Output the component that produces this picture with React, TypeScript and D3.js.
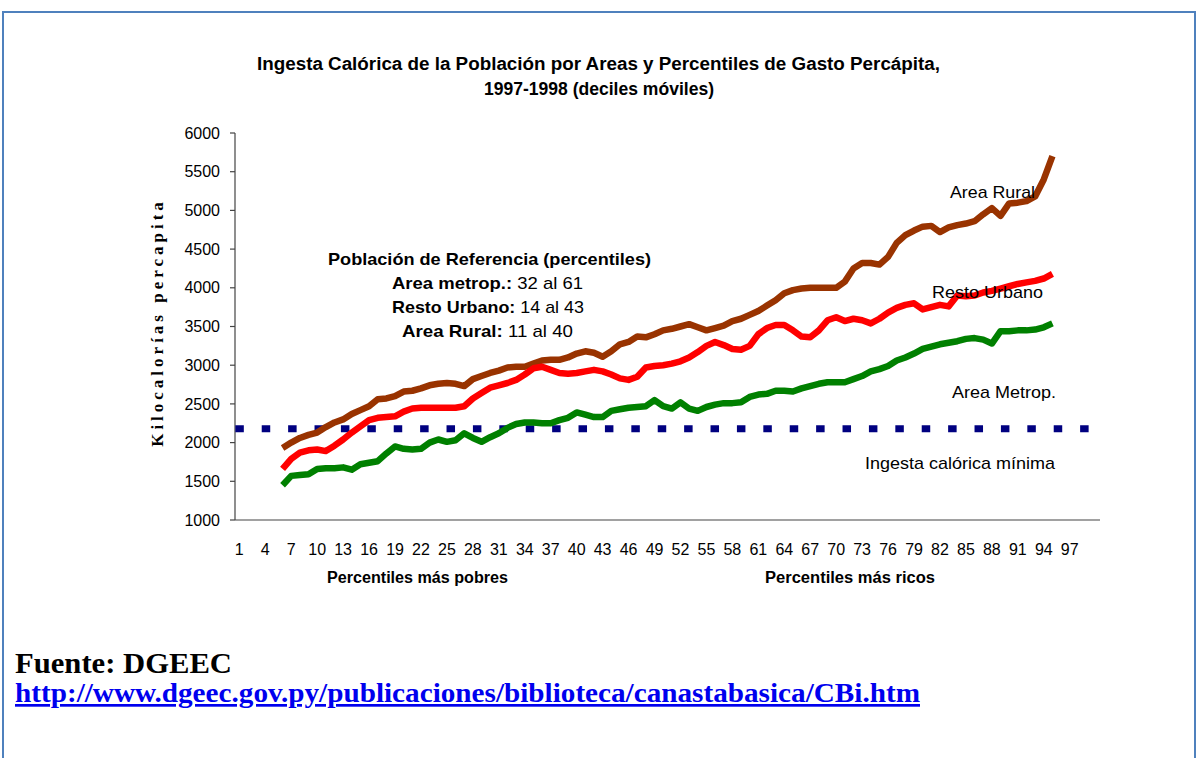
import * as d3 from "d3";

const percentiles = d3.range(1, 101);
const tickLabels = d3.range(1, 98, 3);
const seriesPercentiles = d3.range(6, 96);

const rural = [
  1930, 2000, 2060, 2100, 2130, 2200, 2260, 2300, 2370, 2420,
  2470, 2560, 2570, 2600, 2660, 2670, 2700, 2740, 2760, 2770,
  2760, 2730, 2820, 2860, 2900, 2930, 2970, 2980, 2980, 3020,
  3060, 3070, 3070, 3100, 3150, 3180, 3160, 3110, 3180, 3270,
  3300, 3370, 3360, 3400, 3450, 3470, 3500, 3530, 3490, 3450,
  3480, 3510, 3570, 3600, 3650, 3700, 3770, 3840, 3930, 3970,
  3990, 4000, 4000, 4000, 4000, 4080, 4250, 4320, 4320, 4300,
  4400, 4580, 4680, 4740, 4790, 4800, 4720, 4780, 4810, 4830,
  4860, 4950, 5030, 4930, 5090, 5100, 5120, 5180, 5400, 5700,
];

const urbano = [
  1660, 1790, 1870, 1900, 1910, 1890, 1960, 2040, 2130, 2210,
  2290, 2320, 2330, 2340, 2400, 2440, 2450, 2450, 2450, 2450,
  2450, 2470, 2570, 2640, 2710, 2740, 2770, 2810, 2880, 2960,
  2980, 2940, 2900, 2890, 2900, 2920, 2940, 2920, 2880, 2830,
  2810, 2850, 2970, 2990, 3000, 3020, 3050, 3100, 3170, 3250,
  3300, 3260, 3210, 3200, 3250, 3400, 3480, 3520, 3520, 3450,
  3370, 3360, 3450, 3580, 3620, 3570, 3600, 3580, 3540, 3600,
  3680, 3740, 3780, 3800, 3720, 3750, 3780, 3760, 3900, 3890,
  3900, 3940, 3960, 3990, 4020, 4050, 4070, 4090, 4120, 4180,
];

const metrop = [
  1450, 1570, 1580, 1590, 1660, 1670, 1670, 1680, 1650, 1720,
  1740, 1760, 1860, 1950, 1920, 1910, 1920, 2000, 2040, 2010,
  2030, 2120, 2060, 2010, 2070, 2120, 2190, 2240, 2260, 2260,
  2250, 2250, 2290, 2320, 2390, 2360, 2330, 2330, 2410, 2430,
  2450, 2460, 2470, 2550, 2470, 2440, 2520, 2440, 2410, 2460,
  2490, 2510, 2510, 2520, 2590, 2620, 2630, 2670, 2670, 2660,
  2700, 2730, 2760, 2780, 2780, 2780, 2820, 2860, 2920, 2950,
  2990, 3060, 3100, 3150, 3210, 3240, 3270, 3290, 3310, 3340,
  3350, 3330, 3280, 3440, 3440, 3450, 3450, 3460, 3490, 3540,
];

const ingestaMinima = 2180;
const yTicks = [1000, 1500, 2000, 2500, 3000, 3500, 4000, 4500, 5000, 5500, 6000];

const series = [
  { name: "Area Rural", values: rural, color: "#993300" },
  { name: "Resto Urbano", values: urbano, color: "#ff0000" },
  { name: "Area Metrop.", values: metrop, color: "#008000" },
];

const SANS = "'Liberation Sans', Arial, sans-serif";
const SERIF = "'Liberation Serif', 'Times New Roman', serif";

export default function App() {
  const left = 235;
  const right = 1100;
  const top = 133;
  const bottom = 520;

  const x = d3
    .scaleBand<number>()
    .domain(percentiles)
    .range([left, right])
    .padding(0);
  const cx = (p: number) => (x(p) ?? 0) + x.bandwidth() / 2;
  const y = d3.scaleLinear().domain([1000, 6000]).range([bottom, top]);

  const line = d3
    .line<number>()
    .x((_d, i) => cx(seriesPercentiles[i]))
    .y((d) => y(d));

  const fit = { lengthAdjust: "spacingAndGlyphs" as const };

  return (
    <svg
      width={1197}
      height={758}
      style={{ position: "absolute", left: 0, top: 0, background: "#fff" }}
    >
      <rect x={0} y={0} width={1197} height={758} fill="#fff" />
      {/* frame */}
      <path d="M3,770 V12 H1195 V770" fill="none" stroke="#4f81bd" strokeWidth={2} />

      {/* title */}
      <g fontFamily={SANS} fontWeight="bold" fontSize={17.5} fill="#000">
        <text x={257} y={70} textLength={683} {...fit}>
          Ingesta Calórica de la Población por Areas y Percentiles de Gasto Percápita,
        </text>
        <text x={484} y={95} textLength={230} {...fit}>
          1997-1998 (deciles móviles)
        </text>
      </g>

      {/* y axis */}
      <line x1={left} x2={left} y1={top} y2={bottom} stroke="#444" strokeWidth={1.2} />
      {yTicks.map((t) => (
        <g key={t}>
          <line x1={left - 5} x2={left} y1={y(t)} y2={y(t)} stroke="#444" strokeWidth={1.2} />
          <text
            x={left - 15}
            y={y(t)}
            dy="0.35em"
            textAnchor="end"
            fontFamily={SANS}
            fontSize={16}
          >
            {t}
          </text>
        </g>
      ))}
      <text
        transform={`translate(163,${(top + bottom) / 2 - 4}) rotate(-90)`}
        textAnchor="middle"
        fontFamily={SERIF}
        fontWeight="bold"
        fontSize={17}
        letterSpacing={4}
      >
        Kilocalorías percapita
      </text>

      {/* x axis */}
      <line x1={left} x2={right} y1={bottom} y2={bottom} stroke="#444" strokeWidth={1.2} />
      {tickLabels.map((p) => (
        <text
          key={p}
          x={cx(p)}
          y={549}
          dy="0.35em"
          textAnchor="middle"
          fontFamily={SANS}
          fontSize={16}
        >
          {p}
        </text>
      ))}
      <g fontFamily={SANS} fontWeight="bold" fontSize={16}>
        <text x={327} y={583} textLength={181} {...fit}>
          Percentiles más pobres
        </text>
        <text x={765} y={583} textLength={170} {...fit}>
          Percentiles más ricos
        </text>
      </g>

      {/* minimum intake */}
      <line
        x1={cx(1) - 4}
        x2={cx(100) - 4}
        y1={y(ingestaMinima)}
        y2={y(ingestaMinima)}
        stroke="#000080"
        strokeWidth={7}
        strokeDasharray="8.5 17.9"
      />

      {/* series */}
      {series.map((s) => (
        <path
          key={s.name}
          d={line(s.values) ?? ""}
          fill="none"
          stroke={s.color}
          strokeWidth={6.5}
          strokeLinejoin="round"
        />
      ))}

      {/* reference population */}
      <g fontFamily={SANS} fontSize={17} fill="#000">
        <text x={328} y={265} fontWeight="bold" textLength={323} {...fit}>
          Población de Referencia (percentiles)
        </text>
        <text x={392} y={289} textLength={191} {...fit}>
          <tspan fontWeight="bold">Area metrop.:</tspan> 32 al 61
        </text>
        <text x={392} y={313} textLength={192} {...fit}>
          <tspan fontWeight="bold">Resto Urbano:</tspan> 14 al 43
        </text>
        <text x={402} y={337} textLength={171} {...fit}>
          <tspan fontWeight="bold">Area Rural:</tspan> 11 al 40
        </text>
      </g>

      {/* series labels */}
      <g fontFamily={SANS} fontSize={17} fill="#000">
        <text x={950} y={198} textLength={85} {...fit}>Area Rural</text>
        <text x={932} y={298} textLength={111} {...fit}>Resto Urbano</text>
        <text x={952} y={398} textLength={104} {...fit}>Area Metrop.</text>
        <text x={865} y={469} textLength={190} {...fit}>Ingesta calórica mínima</text>
      </g>

      {/* source */}
      <text
        x={15}
        y={673}
        fontFamily={SERIF}
        fontWeight="bold"
        fontSize={29}
        textLength={217}
        {...fit}
      >
        Fuente: DGEEC
      </text>
      <text
        x={15}
        y={702}
        fontFamily={SERIF}
        fontWeight="bold"
        fontSize={27}
        fill="#0000ee"
        textDecoration="underline"
        textLength={905}
        {...fit}
      >
        http://www.dgeec.gov.py/publicaciones/biblioteca/canastabasica/CBi.htm
      </text>
    </svg>
  );
}
